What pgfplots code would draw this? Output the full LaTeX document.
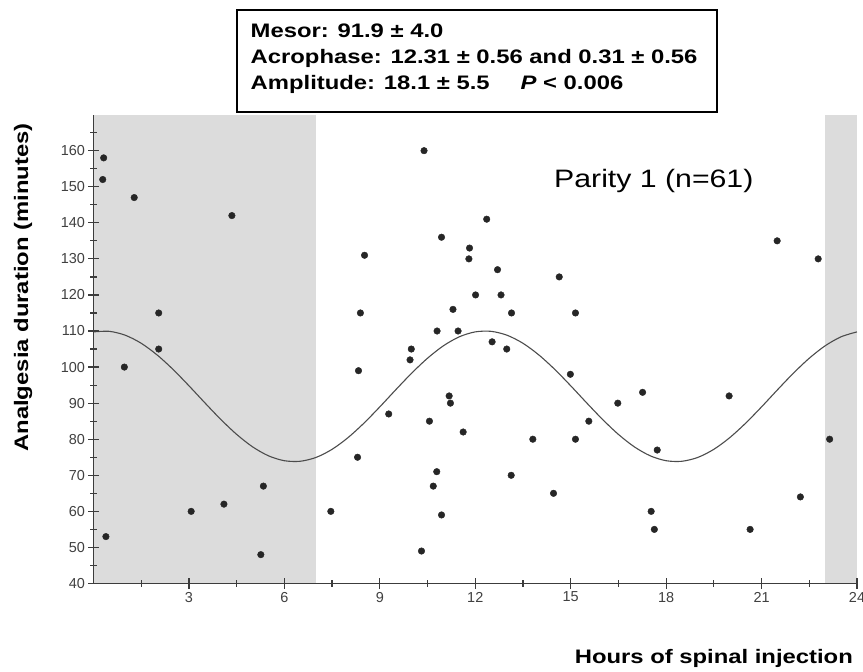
\documentclass[border=0pt]{standalone}
\usepackage{fontspec}
\setmainfont{Liberation Sans}
\newfontfamily\wide[FakeStretch=1.22]{Liberation Sans}
\newfontfamily\widep[FakeStretch=1.2]{Liberation Sans}
\usepackage{pgfplots}
\pgfplotsset{compat=1.18}
\definecolor{shade}{RGB}{220,220,220}
\definecolor{inkgray}{RGB}{60,60,60}

\begin{document}
\begin{tikzpicture}
\useasboundingbox (-93.5bp,-88.5bp) rectangle (769.5bp,583.5bp);
\begin{axis}[
  at={(0,0)}, anchor=south west,
  scale only axis, width=763.5bp, height=468.9bp,
  xmin=0, xmax=24, ymin=40, ymax=170,
  axis lines*=left,
  axis line style={line width=1.8bp, inkgray},
  xtick={3,6,...,24}, ytick={40,50,...,160},
  minor xtick={1.5,4.5,...,22.5}, minor ytick={45,55,...,165},
  tick align=center, major tick length=10bp, minor tick length=6bp,
  tick style={line width=1.2bp, inkgray},
  tick label style={font=\fontsize{14.5}{14.5}\selectfont, text=black!75},
  /pgf/number format/assume math mode=true,
  axis on top, clip=false,
]
% shaded night periods
\addplot[fill=shade, draw=none] coordinates {(0,40) (0,170) (7,170) (7,40)} -- cycle;
\addplot[fill=shade, draw=none] coordinates {(23,40) (23,170) (24,170) (24,40)} -- cycle;

% fitted cosinor curve
\addplot[smooth, line width=1.1bp, black!70] coordinates {
  (0,109.76) (0.5,109.91) (1,108.83) (1.5,106.60) (2,103.36) (2.5,99.35)
  (3,94.82) (3.5,90.10) (4,85.50) (4.5,81.34) (5,77.89) (5.5,75.40)
  (6,74.04) (6.5,73.89) (7,74.97) (7.5,77.20) (8,80.44) (8.5,84.45)
  (9,88.97) (9.5,93.70) (10,98.30) (10.5,102.46) (11,105.91) (11.5,108.40)
  (12,109.76) (12.5,109.91) (13,108.83) (13.5,106.60) (14,103.36) (14.5,99.35)
  (15,94.82) (15.5,90.10) (16,85.50) (16.5,81.34) (17,77.89) (17.5,75.40)
  (18,74.04) (18.5,73.89) (19,74.97) (19.5,77.20) (20,80.44) (20.5,84.45)
  (21,88.97) (21.5,93.70) (22,98.30) (22.5,102.46) (23,105.91) (23.5,108.40)
  (24,109.76)};

% individual patients
\addplot[only marks, mark=*, mark size=3.3bp,
  mark options={fill=black!85, draw=black!85}] coordinates {
  (0.32,158) (0.29,152) (1.28,147) (4.35,142) (2.05,115) (2.05,105)
  (0.97,100) (0.39,53) (3.07,60) (4.10,62) (5.34,67) (5.26,48) (7.46,60)
  (10.39,160) (12.36,141) (10.94,136) (11.82,133) (11.80,130) (8.52,131)
  (12.70,127) (14.64,125) (12.01,120) (12.81,120) (8.39,115) (11.30,116)
  (13.14,115) (15.15,115) (10.80,110) (11.46,110) (12.53,107) (9.99,105)
  (12.99,105) (9.95,102) (8.33,99) (14.99,98) (11.18,92) (11.22,90)
  (9.28,87) (10.56,85) (15.57,85) (11.62,82) (13.81,80) (15.15,80)
  (8.30,75) (10.79,71) (13.13,70) (10.68,67) (14.46,65) (10.94,59)
  (10.31,49) (16.48,90) (17.26,93) (19.98,92) (17.72,77) (23.14,80)
  (22.22,64) (17.53,60) (17.63,55) (20.64,55) (21.49,135) (22.78,130)};
\end{axis}

% cosinor summary box
\draw[line width=1.5bp] (143.5bp,573.5bp) rectangle (623.5bp,471.5bp);
\begin{scope}[every node/.style={anchor=base west, inner sep=0pt,
    font=\wide\bfseries\fontsize{19.6}{24}\selectfont}]
  \node at (157bp,545.5bp) {Mesor: 91.9 ± 4.0};
  \node at (157bp,519.5bp) {Acrophase: 12.31 ± 0.56 and 0.31 ± 0.56};
  \node at (157bp,493.5bp) {Amplitude: 18.1 ± 5.5};
  \node at (427bp,493.5bp) {\itshape P\upshape{} < 0.006};
\end{scope}

\node[anchor=base west, inner sep=0pt, font=\widep\fontsize{25.3}{30}\selectfont]
  at (460.5bp,396.2bp) {Parity 1 (n=61)};

\node[rotate=90, inner sep=0pt, font=\wide\bfseries\fontsize{19.6}{24}\selectfont]
  at (-70.5bp,296bp) {Analgesia duration (minutes)};
\node[anchor=base east, inner sep=0pt, font=\wide\bfseries\fontsize{19.6}{24}\selectfont]
  at (759.5bp,-79.5bp) {Hours of spinal injection};
\end{tikzpicture}
\end{document}
